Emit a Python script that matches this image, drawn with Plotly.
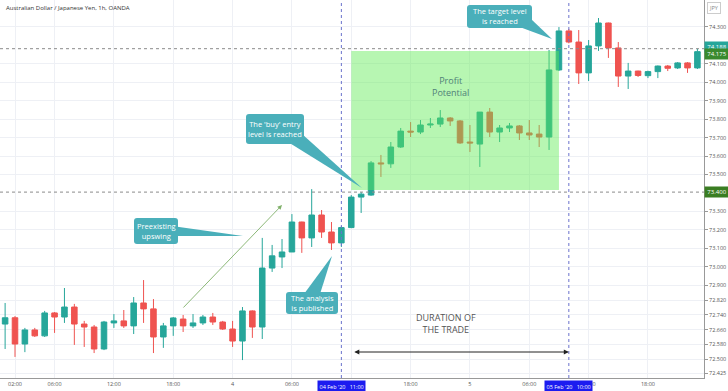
import plotly.graph_objects as go
import pandas as pd

# ---------------- data ----------------
times = pd.date_range("2020-02-03 01:00", periods=71, freq="h")

opens = [72.691, 72.725, 72.583, 72.659, 72.627, 72.751, 72.729, 72.783, 72.691, 72.675,
         72.556, 72.697, 72.708, 72.681, 72.805, 72.773, 72.621, 72.681, 72.718, 72.681,
         72.697, 72.729, 72.702, 72.664, 72.599, 72.762, 72.675, 72.994, 73.054, 73.081,
         73.243, 73.157, 73.281, 73.189, 73.130, 73.213, 73.378, 73.389, 73.563, 73.558,
         73.649, 73.735, 73.730, 73.768, 73.773, 73.806, 73.790, 73.676, 73.665, 73.838,
         73.730, 73.752, 73.763, 73.725, 73.719, 73.703, 74.066, 74.277, 74.217, 74.050,
         74.196, 74.320, 74.185, 74.033, 74.060, 74.035, 74.057, 74.087, 74.077, 74.104,
         74.077]
highs = [72.805, 72.734, 72.670, 72.670, 72.762, 72.756, 72.886, 72.800, 72.708, 72.686,
         72.708, 72.745, 72.767, 72.837, 72.929, 72.826, 72.697, 72.729, 72.740, 72.745,
         72.740, 72.751, 72.708, 72.708, 72.783, 72.765, 73.157, 73.119, 73.151, 73.286,
         73.245, 73.421, 73.308, 73.243, 73.220, 73.389, 73.405, 73.573, 73.606, 73.676,
         73.752, 73.784, 73.795, 73.806, 73.849, 73.811, 73.795, 73.768, 73.838, 73.860,
         73.768, 73.779, 73.768, 73.795, 73.768, 74.174, 74.298, 74.288, 74.282, 74.228,
         74.347, 74.322, 74.217, 74.104, 74.062, 74.062, 74.090, 74.093, 74.109, 74.109,
         74.180]
lows = [72.556, 72.513, 72.539, 72.621, 72.621, 72.643, 72.697, 72.578, 72.567, 72.534,
        72.550, 72.670, 72.670, 72.637, 72.697, 72.534, 72.562, 72.627, 72.648, 72.670,
        72.686, 72.686, 72.659, 72.567, 72.496, 72.616, 72.610, 72.973, 72.994, 73.081,
        73.076, 73.108, 73.157, 73.092, 73.108, 73.210, 73.292, 73.385, 73.487, 73.536,
        73.644, 73.703, 73.719, 73.752, 73.757, 73.763, 73.666, 73.622, 73.541, 73.703,
        73.676, 73.730, 73.687, 73.687, 73.649, 73.633, 74.060, 74.210, 73.990, 74.006,
        74.169, 74.131, 73.974, 73.963, 74.028, 74.022, 74.022, 74.060, 74.071, 74.050,
        74.071]
closes = [72.725, 72.583, 72.659, 72.627, 72.751, 72.729, 72.783, 72.691, 72.675, 72.556,
          72.702, 72.708, 72.681, 72.805, 72.773, 72.621, 72.681, 72.724, 72.681, 72.697,
          72.729, 72.702, 72.664, 72.599, 72.762, 72.675, 72.994, 73.060, 73.081, 73.243,
          73.157, 73.281, 73.189, 73.130, 73.213, 73.378, 73.394, 73.563, 73.558, 73.649,
          73.735, 73.730, 73.768, 73.773, 73.806, 73.790, 73.671, 73.671, 73.838, 73.730,
          73.752, 73.763, 73.725, 73.714, 73.703, 74.066, 74.277, 74.217, 74.050, 74.196,
          74.320, 74.185, 74.033, 74.060, 74.036, 74.057, 74.087, 74.075, 74.104, 74.077,
          74.165]

x_tick_vals = ["2020-02-03 02:00", "2020-02-03 06:00", "2020-02-03 12:00", "2020-02-03 18:00",
               "2020-02-04 00:00", "2020-02-04 06:00", "2020-02-04 12:00", "2020-02-04 18:00",
               "2020-02-05 00:00", "2020-02-05 06:00", "2020-02-05 12:00", "2020-02-05 18:00"]
x_tick_text = ["02:00", "06:00", "12:00", "18:00", "4", "06:00", "", "18:00",
               "5", "06:00", "12:00", "18:00"]
y_tick_vals = [74.3, 74.1, 74.0, 73.9, 73.8, 73.7, 73.6, 73.5, 73.3, 73.2, 73.1, 73.0,
               72.9, 72.82, 72.74, 72.66, 72.58, 72.5, 72.425]

entry_level = 73.405
target_level = 74.181
entry_time = "2020-02-04 11:00"
target_time = "2020-02-05 10:00"
box_start, box_end = "2020-02-04 12:00", "2020-02-05 09:00"
box_low, box_high = 73.416, 74.168

W, H = 704, 378
def px(x):
    return x / W
def py(y):
    return 1 - y / H

fig = go.Figure()
fig.add_trace(go.Candlestick(
    x=times, open=opens, high=highs, low=lows, close=closes,
    increasing=dict(line=dict(color="#26a69a", width=1), fillcolor="#26a69a"),
    decreasing=dict(line=dict(color="#ef5350", width=1), fillcolor="#ef5350"),
    whiskerwidth=0, showlegend=False, hoverinfo="skip"))

shapes = []
for lvl in (entry_level, target_level):
    shapes.append(dict(type="line", xref="paper", yref="y", x0=0, x1=1, y0=lvl, y1=lvl,
                       line=dict(color="#8a8a8a", width=1, dash="dot"), layer="above"))
for t in (entry_time, target_time):
    shapes.append(dict(type="line", xref="x", yref="paper", x0=t, x1=t, y0=0, y1=1,
                       line=dict(color="#6a72cc", width=1, dash="dot"), layer="above"))
shapes.append(dict(type="rect", xref="x", yref="y", x0=box_start, x1=box_end,
                   y0=box_low, y1=box_high, fillcolor="rgba(95,235,85,0.45)",
                   line=dict(width=0), layer="above"))

CALL = "#4aafba"
def rbox(x0, y0, x1, y1, r=3):
    X0, X1 = px(x0), px(x1)
    Y0, Y1 = py(y0), py(y1)
    rx, ry = r / W, r / H
    return (f"M {X0+rx},{Y0} L {X1-rx},{Y0} Q {X1},{Y0} {X1},{Y0-ry} "
            f"L {X1},{Y1+ry} Q {X1},{Y1} {X1-rx},{Y1} L {X0+rx},{Y1} "
            f"Q {X0},{Y1} {X0},{Y1+ry} L {X0},{Y0-ry} Q {X0},{Y0} {X0+rx},{Y0} Z")

callouts = [
    ("Preexisting<br>upswing", (134, 218, 178, 244), [(172, 226), (172, 236)], (243, 236)),
    ("The analysis<br>is published", (286, 292, 338, 314), [(304, 294), (320, 294)], (332, 256)),
    ("The 'buy' entry<br>level is reached", (246, 114, 304, 144), [(288, 142), (302, 134)], (362, 188)),
    ("The target level<br>is reached", (467, 5, 532, 28), [(517, 26), (531, 19)], (552, 39)),
]
annotations = []
for text, (x0, y0, x1, y1), base, tip in callouts:
    shapes.append(dict(type="path", xref="paper", yref="paper", path=rbox(x0, y0, x1, y1),
                       fillcolor=CALL, line=dict(width=0), layer="above"))
    (bx0, by0), (bx1, by1) = base
    tx, ty = tip
    shapes.append(dict(type="path", xref="paper", yref="paper",
                       path=f"M {px(bx0)},{py(by0)} L {px(tx)},{py(ty)} L {px(bx1)},{py(by1)} Z",
                       fillcolor=CALL, line=dict(width=0), layer="above"))
    annotations.append(dict(text=text, xref="paper", yref="paper", x=px((x0 + x1) / 2),
                            y=py((y0 + y1) / 2), xanchor="center", yanchor="middle",
                            showarrow=False,
                            font=dict(family="Open Sans", size=7.5, color="white")))

annotations.append(dict(text="Australian Dollar / Japanese Yen, 1h, OANDA", xref="paper", yref="paper",
                        x=px(4), y=py(8), xanchor="left", yanchor="middle", showarrow=False,
                        font=dict(family="Open Sans", size=6, color="#333")))
annotations.append(dict(text="JPY", xref="paper", yref="paper", x=px(714), y=py(8),
                        xanchor="center", yanchor="middle", showarrow=False,
                        font=dict(family="Open Sans", size=5.5, color="#888"),
                        bordercolor="#ccc", borderwidth=1, borderpad=1, bgcolor="white"))
annotations.append(dict(text="Profit<br>Potential", xref="paper", yref="paper", x=px(450), y=py(87),
                        xanchor="center", yanchor="middle",
                        showarrow=False, font=dict(family="Open Sans", size=9, color="#4f7f78")))
annotations.append(dict(text="DURATION OF<br>THE TRADE", xref="paper", yref="paper", x=px(446), y=py(323),
                        xanchor="center", yanchor="middle",
                        showarrow=False, font=dict(family="Open Sans", size=9, color="#555")))
annotations.append(dict(text="", xref="x", yref="paper", x=target_time, y=py(352),
                        ax=-216, ay=0, showarrow=True, arrowside="end+start", arrowhead=2,
                        arrowsize=1, arrowwidth=1, arrowcolor="#222"))
annotations.append(dict(text="", xref="paper", yref="paper", x=px(282), y=py(205),
                        ax=-100, ay=104, showarrow=True, arrowhead=2, arrowsize=1,
                        arrowwidth=0.9, arrowcolor="#7fb069"))
for txt, yv, col in (("74.188", 74.192, "#26a69a"), ("74.175", 74.151, "#3a8a2e"),
                     ("73.400", entry_level, "#3a7d22")):
    annotations.append(dict(text=txt, xref="paper", yref="y", x=1, y=yv, xanchor="left",
                            yanchor="middle", showarrow=False, bgcolor=col, borderpad=1,
                            width=22, font=dict(family="Open Sans", size=6, color="white")))
for txt, t in (("04 Feb '20   11:00", entry_time), ("05 Feb '20   10:00", target_time)):
    annotations.append(dict(text=txt, xref="x", yref="paper", x=t, y=0, yanchor="top", yshift=-2,
                            xanchor="center", showarrow=False, bgcolor="#1c1cf0", borderpad=1.5,
                            font=dict(family="Open Sans", size=5.5, color="white")))

fig.update_layout(
    width=728, height=391, margin=dict(l=0, r=24, t=0, b=13),
    paper_bgcolor="white", plot_bgcolor="white", boxgap=0.2,
    shapes=shapes, annotations=annotations, showlegend=False,
    xaxis=dict(type="date", range=["2020-02-03 00:29", "2020-02-05 23:40"],
               tickvals=x_tick_vals, ticktext=x_tick_text, rangeslider=dict(visible=False),
               showgrid=True, gridcolor="#eef0f5", showline=True, linecolor="#999",
               linewidth=1, ticks="", tickfont=dict(family="Open Sans", size=5.5, color="#555"),
               zeroline=False),
    yaxis=dict(side="right", range=[72.399, 74.4445], tickvals=y_tick_vals,
               ticktext=[f"{v:.3f}" for v in y_tick_vals], showgrid=True, gridcolor="#eef0f5",
               showline=True, linecolor="#999", linewidth=1, ticks="outside", ticklen=3,
               tickcolor="#999", tickfont=dict(family="Open Sans", size=5.5, color="#555"),
               zeroline=False),
)
fig.write_html("out.html")
